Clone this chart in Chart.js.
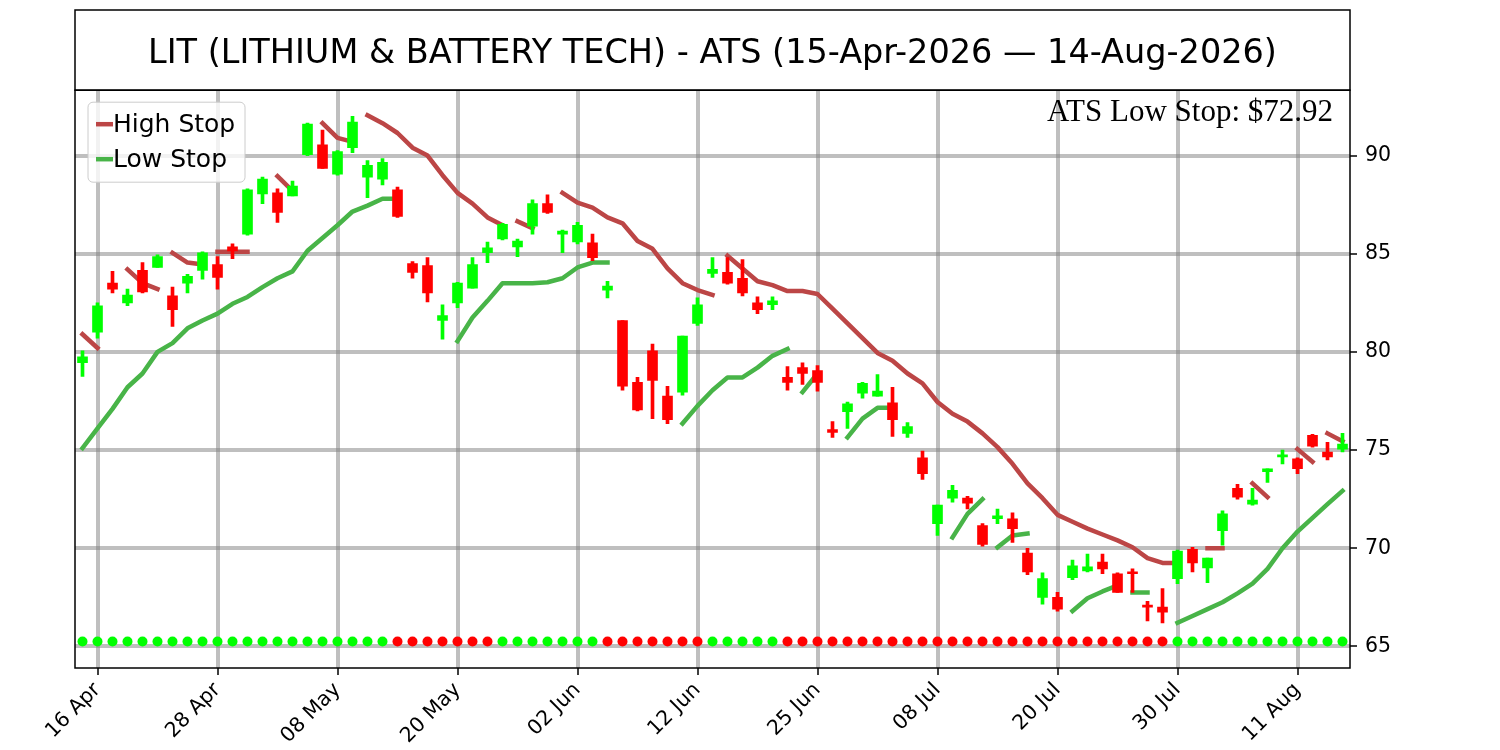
<!DOCTYPE html>
<html>
<head>
<meta charset="utf-8">
<title>LIT ATS</title>
<script src="https://cdn.jsdelivr.net/npm/chart.js@4.4.1/dist/chart.umd.min.js"></script>
<style>
  html, body { margin: 0; padding: 0; background: #fff; }
  canvas { display: block; }
</style>
</head>
<body>
<canvas id="chart" width="1500" height="750"></canvas>
<script>
// trading days 15 Apr 2026 .. 14 Aug 2026
const months = ['Apr', 'May', 'Jun', 'Jul', 'Aug'];
const tradingDays = [
  [15, 16, 17, 20, 21, 22, 23, 24, 27, 28, 29, 30],
  [1, 4, 5, 6, 7, 8, 11, 12, 13, 14, 15, 18, 19, 20, 21, 22, 26, 27, 28, 29],
  [1, 2, 3, 4, 5, 8, 9, 10, 11, 12, 15, 16, 17, 18, 22, 23, 24, 25, 26, 29, 30],
  [1, 2, 6, 7, 8, 9, 10, 13, 14, 15, 16, 17, 20, 21, 22, 23, 24, 27, 28, 29, 30, 31],
  [3, 4, 5, 6, 7, 10, 11, 12, 13, 14]
];
const xTicks = ['16 Apr', '28 Apr', '08 May', '20 May', '02 Jun', '12 Jun', '25 Jun', '08 Jul', '20 Jul', '30 Jul', '11 Aug'];
const yTicks = [65, 70, 75, 80, 85, 90];

const opens = [
  79.45, 81.0, 83.5, 82.5, 84.15, 84.3, 82.85, 83.5, 84.15, 84.45,
  85.35, 86.0, 88.05, 88.1, 87.95, 90.05, 90.55, 89.05, 90.4, 88.9,
  88.8, 88.25, 84.5, 84.4, 81.6, 82.5, 83.25, 85.05, 85.75, 85.35,
  86.4, 87.55, 86.0, 85.6, 85.55, 83.15, 81.6, 78.45, 80.05, 77.75,
  77.95, 81.45, 84.0, 84.05, 83.75, 82.5, 82.4, 78.7, 79.2, 79.05,
  76.05, 76.95, 77.9, 77.75, 77.4, 75.85, 74.6, 71.25, 72.55, 72.55,
  71.15, 71.5, 71.5, 69.75, 67.5, 67.5, 68.5, 68.85, 69.3, 68.7,
  68.8, 67.1, 67.0, 68.45, 69.95, 69.0, 70.9, 73.05, 72.25, 73.9,
  74.65, 74.55, 75.75, 74.9, 75.05
];
const highs = [
  80.05, 82.5, 84.1, 83.2, 84.55, 84.95, 83.3, 83.95, 85.1, 84.85,
  85.5, 88.3, 88.9, 88.3, 88.7, 91.65, 91.3, 90.25, 92.0, 89.75,
  89.85, 88.4, 84.6, 84.8, 82.4, 83.55, 84.8, 85.6, 86.55, 85.75,
  87.75, 88.0, 86.2, 86.6, 86.0, 83.6, 81.6, 78.7, 80.4, 78.25,
  80.8, 82.75, 84.8, 84.8, 84.7, 82.8, 82.8, 79.25, 79.45, 79.3,
  76.45, 77.45, 78.45, 78.85, 78.2, 76.4, 74.95, 72.2, 73.2, 72.65,
  71.25, 72.0, 71.8, 70.0, 68.75, 67.75, 69.4, 69.7, 69.7, 68.75,
  68.95, 67.3, 67.95, 69.9, 70.05, 69.5, 71.9, 73.25, 73.05, 74.05,
  75.0, 74.6, 75.8, 75.4, 75.85
];
const lows = [
  78.75, 80.7, 83.0, 82.35, 83.0, 84.3, 81.3, 83.0, 83.7, 83.2,
  84.75, 85.95, 87.55, 86.6, 87.95, 90.0, 89.35, 89.0, 90.15, 87.85,
  88.5, 86.85, 83.75, 82.55, 80.65, 82.25, 83.25, 84.55, 85.7, 84.85,
  86.0, 87.05, 85.05, 85.5, 84.65, 82.75, 78.05, 77.0, 76.6, 76.35,
  77.8, 81.35, 83.8, 83.45, 82.85, 81.95, 82.15, 78.05, 78.35, 78.0,
  75.65, 76.1, 77.65, 77.75, 75.7, 75.65, 73.5, 70.65, 72.35, 72.0,
  70.1, 71.25, 70.3, 68.65, 67.15, 66.8, 68.4, 68.8, 68.7, 67.75,
  67.75, 66.3, 66.2, 68.2, 68.8, 68.25, 70.15, 72.5, 72.2, 73.35,
  74.3, 73.8, 75.15, 74.5, 74.9
];
const closes = [
  79.75, 82.35, 83.2, 82.9, 83.05, 84.85, 82.15, 83.85, 85.05, 83.8,
  85.15, 88.25, 88.8, 87.1, 88.45, 91.6, 89.35, 90.2, 91.7, 89.5,
  89.65, 86.9, 84.05, 83.0, 81.85, 83.5, 84.45, 85.3, 86.5, 85.65,
  87.55, 87.1, 86.15, 86.45, 84.8, 83.35, 78.25, 77.05, 78.55, 76.55,
  80.8, 82.4, 84.2, 83.5, 83.0, 82.15, 82.6, 78.45, 78.9, 78.45,
  75.9, 77.35, 78.4, 78.0, 76.55, 76.2, 73.8, 72.2, 72.95, 72.3,
  70.2, 71.65, 71.0, 68.8, 68.45, 66.9, 69.1, 69.05, 68.95, 67.75,
  68.7, 67.0, 66.75, 69.85, 69.25, 69.5, 71.75, 72.6, 72.45, 74.05,
  74.75, 74.05, 75.2, 74.65, 75.3
];

// 1 = up (green dot), 0 = down (red dot)
const trend = [
  1, 1, 1, 1, 1, 1, 1, 1, 1, 1, 1, 1, 1, 1, 1, 1, 1, 1, 1, 1, 1,
  0, 0, 0, 0, 0, 0, 0,
  1, 1, 1, 1, 1, 1, 1,
  0, 0, 0, 0, 0, 0, 0,
  1, 1, 1, 1, 1,
  0, 0, 0, 0, 0, 0, 0, 0, 0, 0, 0, 0, 0, 0, 0, 0, 0, 0, 0, 0, 0, 0, 0, 0, 0, 0,
  1, 1, 1, 1, 1, 1, 1, 1, 1, 1, 1, 1
];
const dotLevel = 65.25;

// [first day index, stop values]
const highStopRuns = [
  [0, [80.9, 80.2]],
  [3, [84.2, 83.5, 83.2]],
  [6, [85.05, 84.55, 84.45]],
  [9, [85.1, 85.1, 85.1]],
  [13, [88.95, 88.2]],
  [16, [91.65, 90.9, 90.7]],
  [19, [92.05, 91.65, 91.15, 90.4, 90.0, 89.0, 88.1, 87.55, 86.85, 86.45]],
  [29, [86.65, 86.3]],
  [32, [88.1, 87.6, 87.35, 86.85, 86.55, 85.65, 85.25, 84.25, 83.5, 83.15, 82.9]],
  [43, [84.9, 84.25, 83.6, 83.4, 83.1, 83.1, 82.95, 82.2, 81.45, 80.7, 79.95, 79.55, 78.9, 78.4, 77.45,
        76.85, 76.45, 75.85, 75.15, 74.3, 73.3, 72.55, 71.7, 71.35, 71.0, 70.7, 70.4, 70.05, 69.5, 69.25, 69.25]],
  [75, [70.0, 70.0]],
  [78, [73.3, 72.6]],
  [81, [75.05, 74.4]],
  [83, [75.85, 75.45]]
];
const lowStopRuns = [
  [0, [75.1, 76.1, 77.1, 78.2, 78.9, 80.0, 80.45, 81.2, 81.6, 81.95, 82.45, 82.8, 83.3, 83.75, 84.1,
       85.15, 85.8, 86.45, 87.15, 87.45, 87.8, 87.8]],
  [25, [80.55, 81.75, 82.6, 83.5, 83.5, 83.5, 83.55, 83.75, 84.3, 84.55, 84.55]],
  [40, [76.35, 77.25, 78.05, 78.7, 78.7, 79.2, 79.8, 80.15]],
  [48, [77.95, 78.9]],
  [51, [75.65, 76.6, 77.15, 77.15]],
  [58, [70.55, 71.75, 72.5]],
  [61, [70.05, 70.65, 70.75]],
  [66, [66.8, 67.45, 67.8, 68.1]],
  [70, [67.75, 67.75]],
  [73, [66.2, 66.55, 66.9, 67.25, 67.7, 68.2, 68.95, 70.0, 70.85, 71.55, 72.25, 72.92]]
];

const GREEN = '#00ff00';
const RED = '#ff0000';
const HIGH_COLOR = '#bc4646';
const LOW_COLOR = '#48b448';
const GRID = 'rgba(128,128,128,0.5)';
const FONT = 'DejaVu Sans';

const dates = tradingDays.flatMap((days, m) => days.map(d => String(d).padStart(2, '0') + ' ' + months[m]));
const candleColors = closes.map((c, i) => (c >= opens[i] ? GREEN : RED));
const lastLowStop = lowStopRuns[lowStopRuns.length - 1][1].slice(-1)[0];

function runData(start, values) {
  const data = dates.map(() => null);
  values.forEach((v, k) => { data[start + k] = v; });
  return data;
}

function stopDatasets(runs, color) {
  return runs.map(([start, values]) => ({
    type: 'line',
    data: runData(start, values),
    borderColor: color,
    borderWidth: 4.5,
    borderCapStyle: 'square',
    borderJoinStyle: 'round',
    pointRadius: 0,
    pointHoverRadius: 0,
    spanGaps: false,
    tension: 0,
    order: 3
  }));
}

const framePlugin = {
  id: 'frame',
  beforeDraw(chart) {
    const ctx = chart.ctx;
    ctx.save();
    ctx.fillStyle = '#fff';
    ctx.fillRect(0, 0, chart.width, chart.height);
    ctx.restore();
  },
  afterDraw(chart) {
    const ctx = chart.ctx;
    const a = chart.chartArea;
    ctx.save();

    // title box and plot frame
    ctx.strokeStyle = '#000';
    ctx.lineWidth = 1.5;
    ctx.strokeRect(a.left, 10, a.right - a.left, a.top - 10);
    ctx.strokeRect(a.left, a.top, a.right - a.left, a.bottom - a.top);

    // legend
    const lx = a.left + 13, ly = a.top + 12;
    ctx.beginPath();
    ctx.roundRect(lx, ly, 157, 80, 5);
    ctx.fillStyle = 'rgba(255,255,255,0.8)';
    ctx.fill();
    ctx.strokeStyle = '#cccccc';
    ctx.lineWidth = 1;
    ctx.stroke();
    [['High Stop', HIGH_COLOR, ly + 22], ['Low Stop', LOW_COLOR, ly + 57]].forEach(([label, color, y]) => {
      ctx.beginPath();
      ctx.moveTo(lx + 8, y);
      ctx.lineTo(lx + 25, y);
      ctx.strokeStyle = color;
      ctx.lineWidth = 4.5;
      ctx.stroke();
      ctx.fillStyle = '#000';
      ctx.font = '25px "' + FONT + '"';
      ctx.textAlign = 'left';
      ctx.textBaseline = 'middle';
      ctx.fillText(label, lx + 25, y + 1);
    });

    // last stop note
    ctx.fillStyle = '#000';
    ctx.font = '31px "Liberation Serif"';
    ctx.textAlign = 'right';
    ctx.textBaseline = 'alphabetic';
    ctx.fillText('ATS Low Stop: $' + lastLowStop.toFixed(2), a.right - 17, a.top + 31);
    ctx.restore();
  }
};

new Chart(document.getElementById('chart'), {
  type: 'bar',
  data: {
    labels: dates,
    datasets: [
      {
        data: opens.map((o, i) => [o, closes[i]]),
        backgroundColor: candleColors,
        barThickness: 10,
        minBarLength: 2,
        grouped: false,
        order: 0
      },
      {
        data: lows.map((l, i) => [l, highs[i]]),
        backgroundColor: candleColors,
        barThickness: 3,
        grouped: false,
        order: 1
      },
      {
        type: 'line',
        data: dates.map(() => dotLevel),
        showLine: false,
        pointRadius: 5,
        pointHoverRadius: 5,
        pointBorderWidth: 0,
        pointBackgroundColor: trend.map(t => (t ? GREEN : RED)),
        order: 2
      },
      ...stopDatasets(highStopRuns, HIGH_COLOR),
      ...stopDatasets(lowStopRuns, LOW_COLOR)
    ]
  },
  options: {
    responsive: false,
    animation: false,
    devicePixelRatio: 1,
    events: [],
    layout: { padding: { left: 75, top: 10, right: 0, bottom: 0 } },
    plugins: {
      legend: { display: false },
      tooltip: { enabled: false },
      title: {
        display: true,
        fullSize: false,
        text: 'LIT (LITHIUM & BATTERY TECH) - ATS (15-Apr-2026 \u2014 14-Aug-2026)',
        color: '#000',
        font: { family: FONT, size: 33.5, weight: 'normal' },
        padding: { top: 24, bottom: 16 }
      }
    },
    scales: {
      x: {
        type: 'category',
        offset: true,
        afterBuildTicks: scale => { scale.ticks = scale.ticks.filter(t => xTicks.includes(dates[t.value])); },
        afterFit: scale => { scale.height = 82; },
        grid: { color: GRID, lineWidth: 4, offset: false, tickColor: '#000', tickWidth: 1.5, tickLength: 7 },
        border: { display: false },
        ticks: {
          autoSkip: false,
          minRotation: 45,
          maxRotation: 45,
          padding: 3,
          color: '#000',
          font: { family: FONT, size: 20.5 }
        }
      },
      y: {
        position: 'right',
        min: 63.9,
        max: 93.33,
        afterBuildTicks: scale => { scale.ticks = yTicks.map(v => ({ value: v })); },
        afterFit: scale => { scale.width = 150; },
        grid: { color: GRID, lineWidth: 4, tickColor: '#000', tickWidth: 1.5, tickLength: 7 },
        border: { display: false },
        ticks: {
          padding: 8,
          color: '#000',
          font: { family: FONT, size: 20.5 }
        }
      }
    }
  },
  plugins: [framePlugin]
});
</script>
</body>
</html>
